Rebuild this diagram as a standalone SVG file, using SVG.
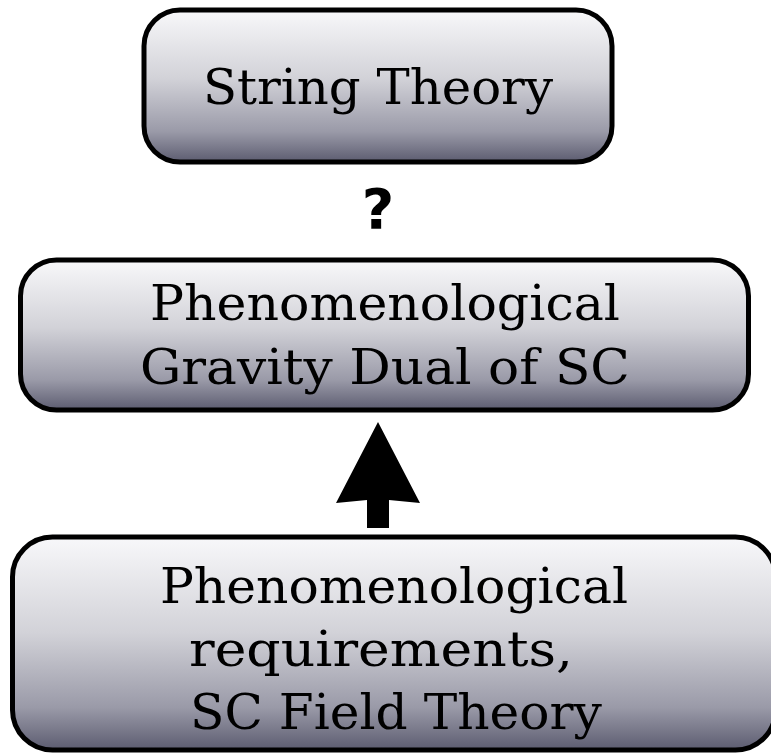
<svg xmlns="http://www.w3.org/2000/svg" width="771" height="756" viewBox="0 0 771 756">
<defs>
<linearGradient id="g" x1="0" y1="0" x2="0" y2="1">
<stop offset="0" stop-color="#f8f8fa"/>
<stop offset="0.45" stop-color="#d2d2d8"/>
<stop offset="0.8" stop-color="#9a9aa8"/>
<stop offset="1" stop-color="#5c5c70"/>
</linearGradient>
<style>
.box{fill:url(#g);stroke:#000;stroke-width:5}
.t{font-family:"DejaVu Serif","Liberation Serif",serif;font-size:49px;fill:#000;text-anchor:middle}
</style>
</defs>
<rect width="771" height="756" fill="#fff"/>
<g id="string-theory">
<rect class="box" x="144" y="10" width="468" height="152" rx="36"/>
<text class="t" x="378" y="104" textLength="350" lengthAdjust="spacingAndGlyphs">String Theory</text>
</g>
<g id="question">
<text x="378" y="228" font-family="DejaVu Sans,sans-serif" font-weight="bold" font-size="56" text-anchor="middle">?</text>
</g>
<g id="gravity-dual">
<rect class="box" x="20.5" y="260" width="728" height="150" rx="36"/>
<text class="t" x="385" y="320" textLength="470" lengthAdjust="spacingAndGlyphs">Phenomenological</text>
<text class="t" x="385" y="384" textLength="490" lengthAdjust="spacingAndGlyphs">Gravity Dual of SC</text>
</g>
<g id="requirements">
<rect class="box" x="12.5" y="537" width="763" height="213" rx="40"/>
<text class="t" x="394" y="603" textLength="468" lengthAdjust="spacingAndGlyphs">Phenomenological</text>
<text class="t" x="381" y="666" textLength="384" lengthAdjust="spacingAndGlyphs">requirements,</text>
<text class="t" x="396" y="729" textLength="412" lengthAdjust="spacingAndGlyphs">SC Field Theory</text>
</g>
<g id="connectors">
<polygon points="378,422 420,503 389,500 389,528 367,528 367,500 336,503" fill="#000"/>
</g>
</svg>
